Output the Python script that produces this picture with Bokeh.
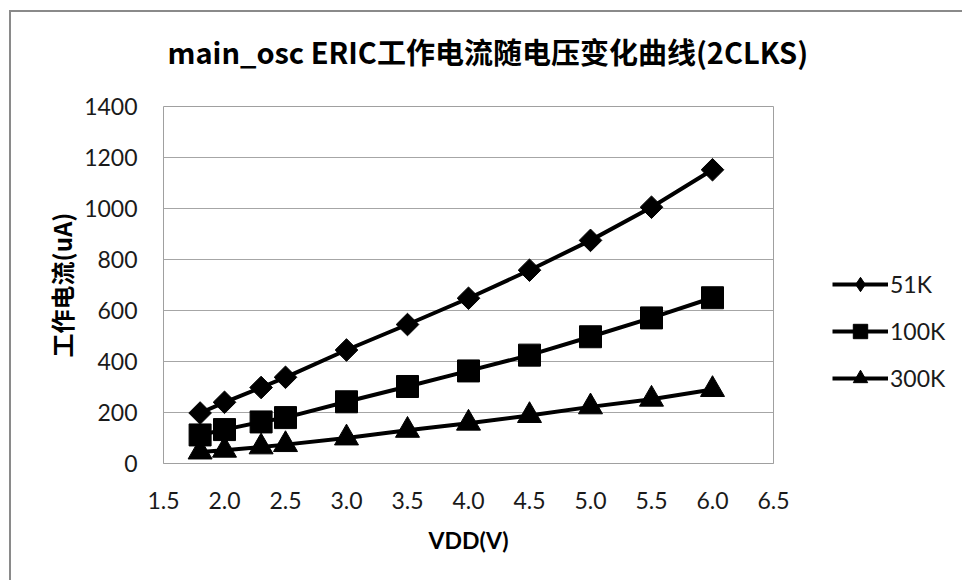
from math import pi
from bokeh.plotting import figure
from bokeh.models import Range1d, FixedTicker, NumeralTickFormatter, Legend, LegendItem
from bokeh.embed import file_html
from bokeh.resources import INLINE

# ---- data ----
vdd = [1.8, 2.0, 2.3, 2.5, 3.0, 3.5, 4.0, 4.5, 5.0, 5.5, 6.0]
i_51k = [198, 240, 298, 338, 445, 545, 648, 758, 875, 1005, 1152]
i_100k = [112, 133, 163, 180, 242, 302, 363, 425, 497, 571, 650]
i_300k = [45, 52, 65, 74, 100, 130, 158, 188, 222, 252, 290]
series_names = ["51K", "100K", "300K"]
x_ticks = [1.5, 2.0, 2.5, 3.0, 3.5, 4.0, 4.5, 5.0, 5.5, 6.0, 6.5]
y_ticks = [0, 200, 400, 600, 800, 1000, 1200, 1400]

title_text = "main_osc  ERIC工作电流随电压变化曲线(2CLKS)"
x_label = "VDD(V)"
y_label = "工作电流(uA)"

LAT = "Lato, 'Noto Sans CJK SC'"
CJK = "'Noto Sans CJK SC'"

SHIFT = 8  # canvas is drawn this many px above the page top

p = figure(
    frame_width=610, frame_height=357,
    x_range=Range1d(1.5, 6.5), y_range=Range1d(0, 1400),
    output_backend="svg", toolbar_location=None,
    min_border_left=163, min_border_right=178,
    min_border_top=106 + SHIFT, min_border_bottom=117,
)
# outer chart border (left and top edges) drawn behind a transparent canvas
p.styles = {
    "transform": f"translateY(-{SHIFT}px)",
    "background": (f"linear-gradient(#8a8a8a, #8a8a8a) 9px {10 + SHIFT}px / 2px 100% no-repeat, "
                   f"linear-gradient(#8a8a8a, #8a8a8a) 9px {10 + SHIFT}px / 100% 2px no-repeat, white"),
}
p.border_fill_alpha = 0

p.title.text = title_text
p.title.text_font = CJK
p.title.text_font_size = "29px"
p.title.text_font_style = "bold"
p.title.align = "left"
p.title.offset = 4
p.title.standoff = 70
p.title.text_color = "#000000"

p.outline_line_color = "#a0a0a0"
p.outline_line_width = 1
p.background_fill_color = "white"

p.xgrid.grid_line_color = None
p.ygrid.grid_line_color = "#a6a6a6"
p.ygrid.grid_line_width = 1

p.xaxis.ticker = FixedTicker(ticks=x_ticks)
p.xaxis.formatter = NumeralTickFormatter(format="0.0")
p.yaxis.ticker = FixedTicker(ticks=y_ticks)
for ax in (p.xaxis[0], p.yaxis[0]):
    ax.major_tick_line_color = None
    ax.minor_tick_line_color = None
    ax.major_label_text_font = LAT
    ax.major_label_text_font_size = "23px"
    ax.major_label_text_color = "#1a1a1a"
    ax.axis_label_text_color = "#000000"
p.xaxis.axis_line_color = "#a0a0a0"
p.yaxis.axis_line_color = None
p.xaxis.major_label_standoff = 22
p.yaxis.major_label_standoff = 20

p.xaxis.axis_label = x_label
p.xaxis.axis_label_text_font = LAT
p.xaxis.axis_label_text_font_size = "23px"
p.xaxis.axis_label_text_font_style = "bold"
p.xaxis.axis_label_standoff = 14
p.yaxis.axis_label = y_label
p.yaxis.axis_label_text_font = CJK
p.yaxis.axis_label_text_font_size = "24px"
p.yaxis.axis_label_text_font_style = "bold"
p.yaxis.axis_label_standoff = 2

series = [i_51k, i_100k, i_300k]
legend_markers = ["diamond", "square", "triangle"]
plot_markers = [("square", pi / 4, 16), ("square", 0, 22), ("triangle", 0, 24)]
items = []
for name, ys, lmk, (mk, ang, sz) in zip(series_names, series, legend_markers, plot_markers):
    ln = p.line(vdd, ys, line_color="black", line_width=4)
    # legend-shaped marker underneath (same points), then the visible marker on top
    lg = p.scatter(vdd, ys, marker=lmk, size=14,
                   fill_color="black", line_color="black")
    sc = p.scatter(vdd, ys, marker=mk, angle=ang, size=sz,
                   fill_color="black", line_color="black")
    items.append(LegendItem(label=name, renderers=[ln, lg]))

legend = Legend(items=items, location=(59, 67))
legend.glyph_width = 56
legend.glyph_height = 36
legend.label_height = 36
legend.spacing = 11
legend.label_standoff = 2
legend.padding = 0
legend.margin = 0
legend.border_line_color = None
legend.background_fill_alpha = 0
legend.label_text_font = LAT
legend.label_text_font_size = "23px"
legend.label_text_color = "#1a1a1a"
p.add_layout(legend, "right")

open("out.html", "w").write(file_html(p, INLINE))
